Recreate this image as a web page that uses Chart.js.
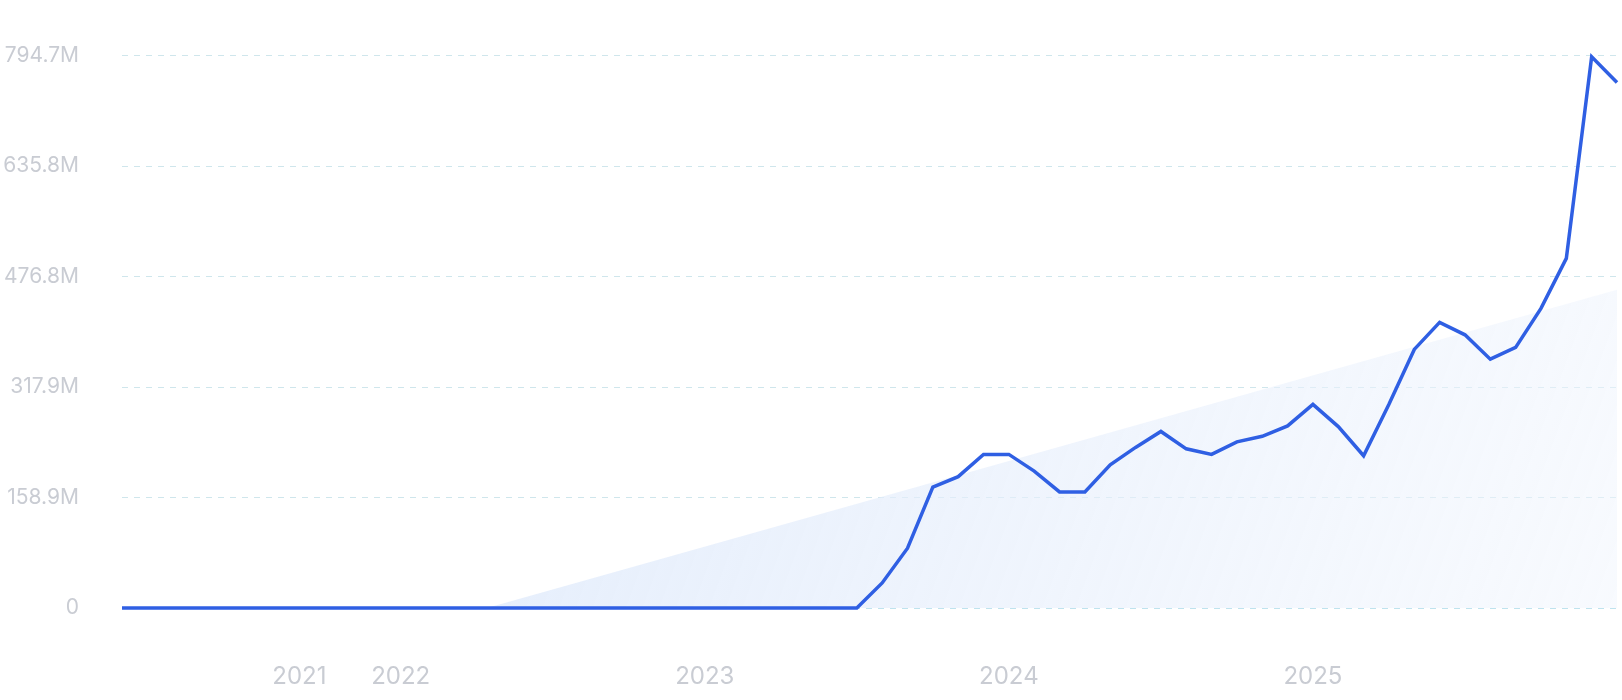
<!DOCTYPE html>
<html><head><meta charset="utf-8">
<script src="https://cdn.jsdelivr.net/npm/chart.js@4/dist/chart.umd.min.js"></script>
<style>html,body{margin:0;padding:0;background:#fff}#w{width:1622px;height:700px}</style>
</head><body><div id="w"><canvas id="c"></canvas></div>
<script>
const values = [0,0,0,0,0,0,0,0,0,0,0,0,0,0,0,0,0,0,0,0,0,0,0,0,0,0,0,0,0,0,
  36,86,174,189,221,221,197,167,167,206,231,254,229,221,239,247,262,293,261,219,
  293,372,411,393,358,375,431,503,793,756];
const trendX = [14.4, 59];
const trendY = [0, 458];
const yearTicks = [7, 11, 23, 35, 47];
const yearLabels = ['2021','2022','2023','2024','2025'];
const yTickLabels = ['0','158.9M','317.9M','476.8M','635.8M','794.7M'];
const yMax = 794.7;

const ctx = document.getElementById('c');
new Chart(ctx, {
  type: 'line',
  data: { datasets: [
    { data: values.map((v,i)=>({x:i,y:v})), borderColor:'#2f5fe3', borderWidth:3.5, pointRadius:0, tension:0, fill:false, order:0, clip:false },
    { data: trendX.map((x,i)=>({x, y:trendY[i]})), borderWidth:0, pointRadius:0, fill:'origin', order:1,
      backgroundColor: (c)=>{ const a=c.chart.chartArea; if(!a) return 'rgba(220,232,250,0.6)';
        const g=c.chart.ctx.createLinearGradient(a.left,a.top,a.right,a.bottom);
        g.addColorStop(0,'rgba(214,228,250,0.9)'); g.addColorStop(1,'rgba(240,245,253,0.5)'); return g; } }
  ]},
  options: {
    responsive:true, maintainAspectRatio:false, animation:false,
    layout:{padding:{top:-23,right:5,left:0,bottom:0}},
    plugins:{legend:{display:false},tooltip:{enabled:false}},
    scales:{
      x:{ type:'linear', min:0, max:59,
        afterBuildTicks:(s)=>{ s.ticks = yearTicks.map(v=>({value:v})); },
        afterFit:(s)=>{ s.height=92; },
        ticks:{ callback:(v)=>yearLabels[yearTicks.indexOf(v)] ?? '', color:'#c9ccd3', font:{family:'Inter',size:24}, padding:46, maxRotation:0, autoSkip:false },
        grid:{display:false}, border:{display:false} },
      y:{ min:0, max:yMax,
        afterBuildTicks:(s)=>{ s.ticks = yTickLabels.map((_,i)=>({value:i*yMax/5})); },
        afterFit:(s)=>{ s.width=122; },
        ticks:{ callback:(v,i)=>yTickLabels[i], color:'#c9ccd3', font:{family:'Inter',size:21}, padding:43 },
        grid:{ color:(c)=>c.index===0?'#bfe3ee':'#cfe6ec', lineWidth:1, tickLength:0, drawTicks:false },
        border:{display:false, dash:[6,6]} }
    }
  }
});
</script></body></html>
